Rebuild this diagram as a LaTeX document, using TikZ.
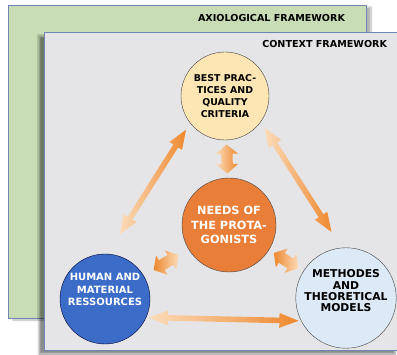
\documentclass[tikz,border=0pt]{standalone}
\usepackage{fontspec}
\usepackage{tikz}
\usetikzlibrary{shapes,arrows,positioning,shadows,shadows.blur}
\setsansfont{DejaVu Sans}
\definecolor{axiogreen}{RGB}{200,221,182}
\definecolor{ctxgray}{RGB}{229,229,231}
\definecolor{frameblue}{RGB}{112,134,178}
\definecolor{peach}{RGB}{253,229,180}
\definecolor{needsorange}{RGB}{233,126,56}
\definecolor{humanblue}{RGB}{58,108,200}
\definecolor{paleblue}{RGB}{220,233,246}
\definecolor{arrowlight}{RGB}{251,220,186}
\definecolor{arrowdark}{RGB}{238,136,46}
\newcommand{\heavyfont}[2]{\fontsize{#1}{#2}\selectfont\sffamily\bfseries}
\tikzstyle{axioframe} = [draw=frameblue, fill=axiogreen, rectangle, minimum width=358pt, minimum height=313pt, blur shadow={shadow xshift=5pt, shadow yshift=-2pt, shadow blur steps=8, shadow opacity=30}]
\tikzstyle{contextframe} = [draw=frameblue, fill=ctxgray, rectangle, minimum width=356pt, minimum height=318pt, blur shadow={shadow xshift=-5pt, shadow yshift=-4pt, shadow blur steps=8, shadow opacity=45}]
\tikzstyle{frametitle} = [inner sep=0pt, font=\heavyfont{9.6}{11}]
\tikzstyle{bubble} = [draw=black!75, circle, inner sep=0pt, align=center]
\tikzstyle{longarrow} = [double arrow, inner xsep=0pt, inner ysep=2.6pt, minimum height=124pt, double arrow head extend=4.6pt, double arrow tip angle=42, sloped, allow upside down, left color=arrowlight, right color=arrowdark]
\tikzstyle{shortarrow} = [double arrow, inner xsep=0pt, inner ysep=5.5pt, minimum height=29pt, double arrow head extend=5.5pt, double arrow tip angle=100, sloped, allow upside down, left color=arrowlight, right color=arrowdark]
\begin{document}
\begin{tikzpicture}[x=1pt,y=-1pt]
					\useasboundingbox (0,0) rectangle (397,355);
					\node [axioframe] (axio) at (187,161.5) {};
					\node [frametitle, below left=9pt and 21pt] at (axio.north east) {AXIOLOGICAL FRAMEWORK};
					\node [contextframe] (context) at (222,191) {};
					\node [frametitle, below left=8pt and 13pt] at (context.north east) {CONTEXT FRAMEWORK};
					\node [bubble, fill=peach, minimum size=88pt, font=\heavyfont{9.4}{12}] (practices) at (225,96) {BEST PRAC-\\TICES AND\\QUALITY\\CRITERIA};
					\node [bubble, fill=needsorange, text=white, minimum size=94pt, font=\heavyfont{11.3}{14.5}] (needs) at (229,225) {NEEDS OF\\THE PROTA-\\GONISTS};
					\node [bubble, fill=humanblue, draw=black!80!blue, text=white, minimum size=90pt, font=\heavyfont{10}{12.5}] (human) at (105,299) {HUMAN AND\\MATERIAL\\RESSOURCES\\[6pt]};
					\node [bubble, fill=paleblue, minimum size=92pt, font=\heavyfont{10.8}{11.3}] (methods) at (346,298) {METHODES\\AND\\THEORETICAL\\MODELS\\[3pt]};
					\path (human.87) -- node [longarrow, pos=.55] {} (practices.218);
					\path (practices.-36) -- node [longarrow, pos=.46] {} (methods.95);
					\path (human.-24) -- node [longarrow, minimum height=150pt] {} (methods.207);
					\path (practices) -- node [shortarrow] {} (needs);
					\path (needs) -- node [shortarrow, right color=arrowlight, left color=arrowdark] {} (human);
					\path (needs) -- node [shortarrow, right color=arrowlight, left color=arrowdark] {} (methods);
\end{tikzpicture}
\end{document}
